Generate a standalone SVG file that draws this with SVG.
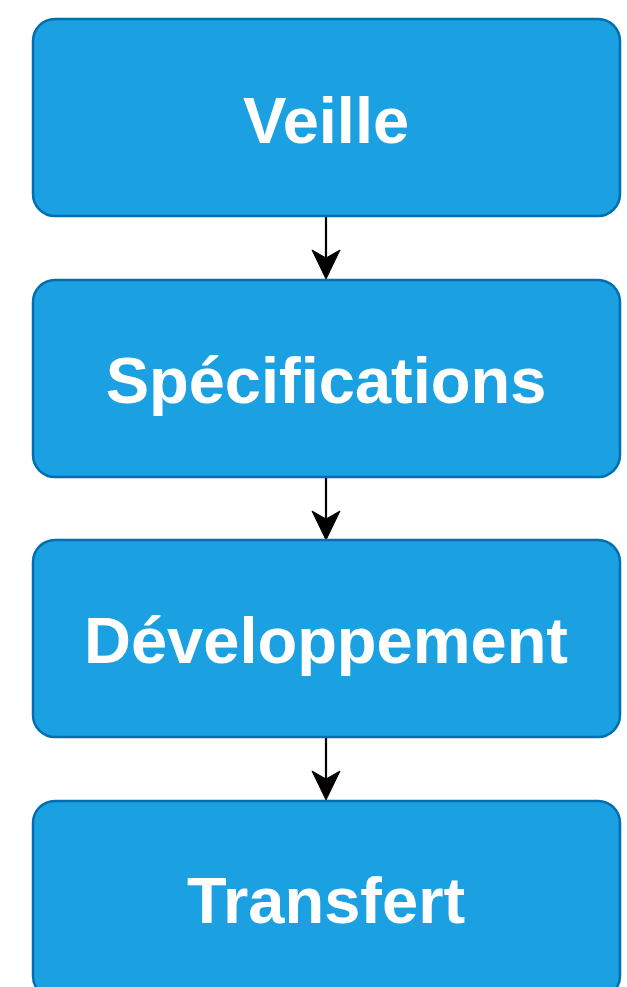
<svg xmlns="http://www.w3.org/2000/svg" width="627" height="987" viewBox="0 0 627 987">
  <style>
    .box { fill: #1ba1e2; stroke: #006eaf; stroke-width: 2.5; }
    .label { fill: #ffffff; font-family: "Liberation Sans", Arial, sans-serif; font-weight: bold; font-size: 65px; text-anchor: middle; }
    .edge { stroke: #000000; stroke-width: 2.2; fill: none; }
    .head { fill: #000000; stroke: #000000; stroke-width: 1; stroke-linejoin: miter; }
  </style>
  <rect width="627" height="987" fill="#ffffff"/>

  <g id="connectors">
    <line class="edge" x1="326" y1="216" x2="326" y2="262"/>
    <path class="head" d="M326,279 L312,250 L326,258 L340,250 Z"/>
    <line class="edge" x1="326" y1="477" x2="326" y2="523"/>
    <path class="head" d="M326,540 L312,511 L326,519 L340,511 Z"/>
    <line class="edge" x1="326" y1="737" x2="326" y2="783"/>
    <path class="head" d="M326,800 L312,771 L326,779 L340,771 Z"/>
  </g>

  <g id="veille">
    <rect class="box" x="33" y="19" width="587" height="197" rx="22" ry="22"/>
    <text class="label" x="326" y="143">Veille</text>
  </g>
  <g id="specifications">
    <rect class="box" x="33" y="280" width="587" height="197" rx="22" ry="22"/>
    <text class="label" x="326" y="403">Spécifications</text>
  </g>
  <g id="developpement">
    <rect class="box" x="33" y="540" width="587" height="197" rx="22" ry="22"/>
    <text class="label" x="326" y="663">Développement</text>
  </g>
  <g id="transfert">
    <rect class="box" x="33" y="801" width="587" height="197" rx="22" ry="22"/>
    <text class="label" x="326" y="923">Transfert</text>
  </g>
</svg>
